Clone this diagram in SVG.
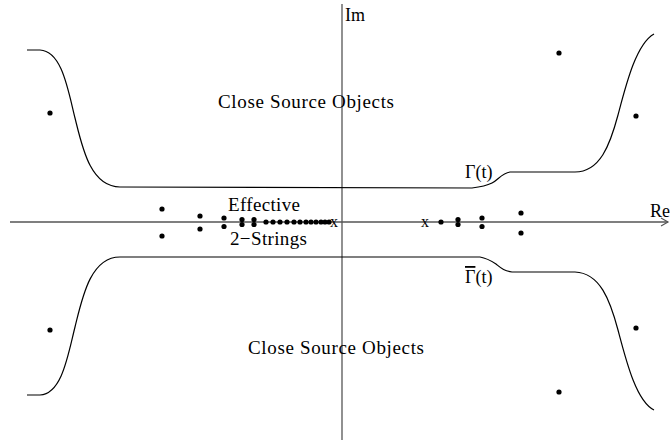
<svg xmlns="http://www.w3.org/2000/svg" width="672" height="443" viewBox="0 0 672 443">
<style>
text{font-family:"Liberation Serif","Times New Roman",serif;fill:#000}
.lbl{font-size:19px}
.ax{stroke:#555;stroke-width:1.3;fill:none}
.cv{stroke:#000;stroke-width:1.2;fill:none}
.d{fill:#000}
</style>
<defs>
<marker id="arr" markerWidth="10" markerHeight="10" refX="8" refY="5" orient="auto" markerUnits="userSpaceOnUse">
<path d="M1,1 L8,5 L1,9" fill="none" stroke="#555" stroke-width="1.2"/>
</marker>
<circle id="dot" r="2.6"/>
</defs>
<rect width="672" height="443" fill="#fff"/>
<g id="connectors">
<line id="re-axis" class="ax" x1="10" y1="222" x2="668" y2="222" marker-end="url(#arr)"/>
<line id="im-axis" class="ax" x1="342" y1="4" x2="342" y2="440"/>
<path id="gamma-upper" class="cv" d="M27,50 L40,50 C62,51 68,90 75,118 C82,146 90,187 120,187 L472,188 C480,187 486,186 492,183 C498,180 502,173 510,172 L575,172 C600,172 610,145 618,115 C626,85 636,44 654,34"/>
<path id="gamma-lower" class="cv" d="M27,395 L40,395 C62,394 68,355 75,327 C82,299 90,257 120,257 L480,257 C486,258 490,260 496,264 C501,268 504,271 512,272 L575,272 C600,273 610,300 618,330 C626,360 636,401 654,410"/>
</g>
<g id="dots" class="d">
<use href="#dot" x="50" y="113"/>
<use href="#dot" x="50" y="330"/>
<use href="#dot" x="559" y="53"/>
<use href="#dot" x="636" y="116"/>
<use href="#dot" x="636" y="328"/>
<use href="#dot" x="559" y="392"/>
<use href="#dot" x="162" y="209"/>
<use href="#dot" x="162" y="236"/>
<use href="#dot" x="200" y="216"/>
<use href="#dot" x="200" y="229"/>
<use href="#dot" x="224" y="218"/>
<use href="#dot" x="224" y="226.5"/>
<use href="#dot" x="242" y="219.5"/>
<use href="#dot" x="242" y="224.5"/>
<use href="#dot" x="254" y="219.5"/>
<use href="#dot" x="254" y="224.5"/>
<use href="#dot" x="266" y="222"/>
<use href="#dot" x="273" y="222"/>
<use href="#dot" x="280" y="222"/>
<use href="#dot" x="287" y="222"/>
<use href="#dot" x="294" y="222"/>
<use href="#dot" x="300" y="222"/>
<use href="#dot" x="306" y="222"/>
<use href="#dot" x="311" y="222"/>
<use href="#dot" x="316" y="222"/>
<use href="#dot" x="321" y="222"/>
<use href="#dot" x="325" y="222"/>
<use href="#dot" x="329" y="222"/>
<use href="#dot" x="441" y="222"/>
<use href="#dot" x="458" y="219.5"/>
<use href="#dot" x="458" y="224.5"/>
<use href="#dot" x="482" y="218"/>
<use href="#dot" x="482" y="226.5"/>
<use href="#dot" x="521" y="213"/>
<use href="#dot" x="521" y="233"/>
</g>
<g id="labels">
<text id="im" x="345" y="21" font-size="18">Im</text>
<text id="re" x="650" y="217" font-size="18">Re</text>
<text id="cso-top" class="lbl" x="218" y="108" textLength="176" lengthAdjust="spacing">Close Source Objects</text>
<text id="cso-bottom" class="lbl" x="248" y="354" textLength="176" lengthAdjust="spacing">Close Source Objects</text>
<text id="effective" class="lbl" x="228" y="211" textLength="72" lengthAdjust="spacing">Effective</text>
<text id="strings" class="lbl" x="230" y="245" textLength="77" lengthAdjust="spacing">2−Strings</text>
<text id="x-left" x="330" y="227" font-size="16">x</text>
<text id="x-right" x="421" y="227" font-size="16">x</text>
<text id="gamma" x="465" y="178" font-size="18">Γ(t)</text>
<text id="gamma-bar" x="465" y="283" font-size="18"><tspan style="text-decoration:overline">Γ</tspan>(t)</text>
</g>
</svg>
